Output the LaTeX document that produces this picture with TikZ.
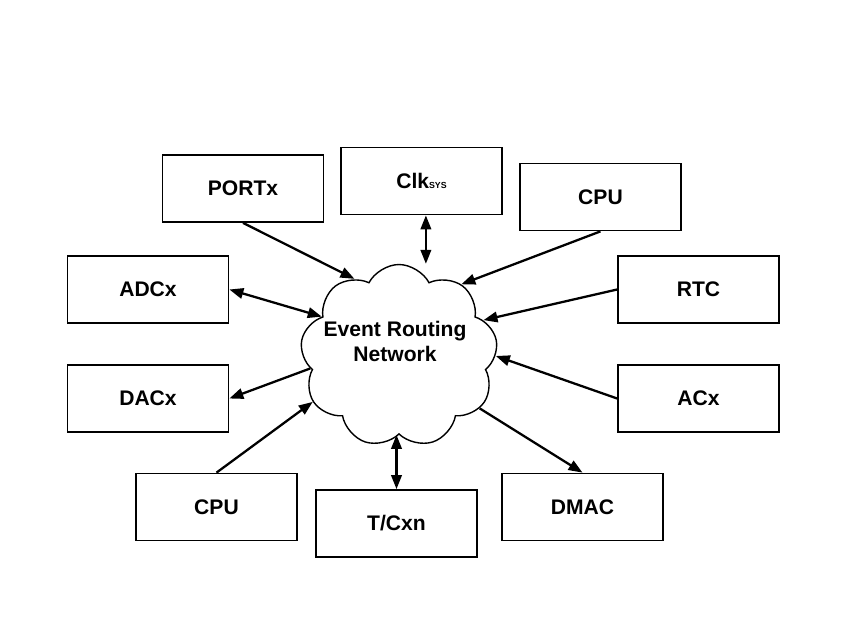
\documentclass[tikz,border=0pt]{standalone}
\usepackage{fontspec}
\setmainfont{Liberation Sans}
\usetikzlibrary{arrows.meta, shapes.symbols}
\tikzset{
	blockbox/.style={draw, line width=1pt, minimum width=3.22cm, minimum height=1.34cm,
		inner sep=0pt, font=\bfseries\fontsize{12}{14}\selectfont}
}
\tikzset{
	netcloud/.style={draw, cloud, cloud puffs=9, cloud puff arc=125, aspect=1.07,
		line width=0.8pt, minimum width=3.95cm, minimum height=3.66cm, inner sep=0pt}
}
\tikzset{
	sigarrow/.style={line width=1.3pt, -{Triangle[length=2.8mm,width=2.1mm]}}
}
\tikzset{
	sigboth/.style={line width=1.3pt, {Triangle[length=2.8mm,width=2.1mm]}-{Triangle[length=2.8mm,width=2.1mm]}}
}

\begin{document}
\begin{tikzpicture}[x=0.02cm, y=-0.02cm]
\useasboundingbox (0,0) rectangle (850,638);

% event routing network
\node[netcloud] (ern) at (399,356) {};
\node[font=\bfseries\fontsize{12}{14.2}\selectfont, align=center] (ernlabel) at (395,341) {Event Routing\\Network};

% peripherals
\node[blockbox] (portx) at (243,188.5) {PORTx};
\node[blockbox] (clk) at (421.5,181) {Clk{\fontsize{5}{5}\selectfont SYS}};
\node[blockbox] (cputop) at (600.5,197) {CPU};
\node[blockbox] (adcx) at (148,289.5) {ADCx};
\node[blockbox] (rtc) at (698.5,289.5) {RTC};
\node[blockbox] (dacx) at (148,398.5) {DACx};
\node[blockbox] (acx) at (698.5,398.5) {ACx};
\node[blockbox] (cpubot) at (216.5,507) {CPU};
\node[blockbox] (tcxn) at (396.5,523.5) {T/Cxn};
\node[blockbox] (dmac) at (582.5,507) {DMAC};

% connections
\draw[sigarrow] (portx.south) -- (ern.120);
\draw[sigboth] ([xshift=2.5]clk.south) -- ([xshift=2.5]clk.south |- ern.north);
\draw[sigarrow] (cputop.south) -- (ern.49);
\draw[sigboth] (adcx.east) -- (ern.153);
\draw[sigarrow] (rtc.west) -- (ern.23);
\draw[sigarrow] (ern.188) -- (dacx.east);
\draw[sigarrow] (acx.west) -- (ern.0);
\draw[sigarrow] (cpubot.north) -- (ern.208);
\draw[sigboth] (tcxn.north) -- (tcxn.north |- ern.south);
\draw[sigarrow] (ern.327) -- (dmac.north);

\end{tikzpicture}
\end{document}
